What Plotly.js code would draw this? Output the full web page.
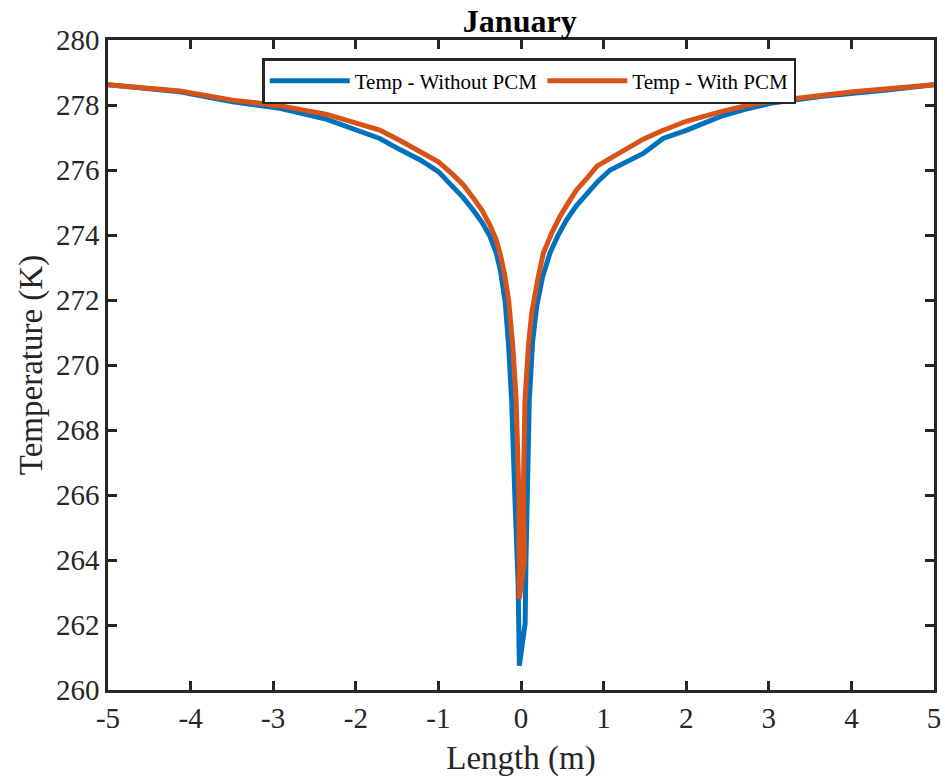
<!DOCTYPE html>
<html>
<head>
<meta charset="utf-8">
<script src="https://cdn.plot.ly/plotly-3.0.1.min.js"></script>
<style>html,body{margin:0;padding:0;background:#fff;}#chart{width:945px;height:779px;}</style>
</head>
<body>
<div id="chart"></div>
<script>
// Temp - Without PCM
var lengthWithout = [-5.0, -4.13, -3.49, -2.92, -2.35, -1.71, -1.46, -1.22, -1.0, -0.82, -0.7, -0.58, -0.47, -0.375, -0.3, -0.25, -0.19, -0.15, -0.113, -0.073, -0.035, -0.02, 0.05, 0.06, 0.077, 0.10, 0.14, 0.19, 0.26, 0.35, 0.45, 0.55, 0.67, 0.80, 0.93, 1.08, 1.2, 1.48, 1.72, 2.0, 2.41, 2.7, 3.02, 3.62, 4.43, 5.0];
var tempWithout   = [278.62, 278.41, 278.10, 277.90, 277.56, 276.97, 276.62, 276.31, 275.95, 275.49, 275.15, 274.77, 274.38, 273.95, 273.45, 272.92, 271.9, 270.6, 268.9, 265.85, 263.3, 260.75, 262.05, 264.0, 265.85, 268.9, 270.7, 271.8, 272.7, 273.44, 274.0, 274.46, 274.9, 275.28, 275.65, 276.0, 276.15, 276.51, 276.97, 277.22, 277.64, 277.86, 278.05, 278.26, 278.46, 278.62];
// Temp - With PCM
var lengthWith = [-5.0, -4.13, -3.49, -2.92, -2.35, -1.71, -1.46, -1.22, -1.0, -0.82, -0.7, -0.58, -0.47, -0.375, -0.3, -0.25, -0.2, -0.15, -0.1, -0.06, -0.025, -0.02, 0.04, 0.03, 0.048, 0.09, 0.13, 0.2, 0.27, 0.37, 0.47, 0.57, 0.67, 0.8, 0.92, 1.08, 1.2, 1.48, 1.7, 1.88, 2.0, 2.41, 2.81, 3.22, 4.02, 5.0];
var tempWith   = [278.62, 278.43, 278.15, 277.98, 277.71, 277.23, 276.90, 276.57, 276.25, 275.85, 275.55, 275.15, 274.75, 274.3, 273.85, 273.4, 272.8, 272.0, 270.6, 269.0, 266.0, 262.8, 263.95, 266.3, 268.9, 270.6, 271.6, 272.6, 273.44, 274.05, 274.56, 274.98, 275.38, 275.75, 276.12, 276.36, 276.55, 276.95, 277.2, 277.38, 277.5, 277.79, 278.03, 278.17, 278.41, 278.62];

var xTicks = [-5, -4, -3, -2, -1, 0, 1, 2, 3, 4, 5];
var yTicks = [260, 262, 264, 266, 268, 270, 272, 274, 276, 278, 280];

var font = "'Liberation Serif', 'Times New Roman', serif";

var traces = [
  {x: lengthWithout, y: tempWithout, mode: 'lines', name: 'Temp - Without PCM',
   line: {color: '#0072BD', width: 5}},
  {x: lengthWith, y: tempWith, mode: 'lines', name: 'Temp - With PCM',
   line: {color: '#D95319', width: 5}}
];

var axisCommon = {
  showgrid: false, zeroline: false, showline: true, mirror: 'ticks',
  linecolor: '#262626', linewidth: 2.5, ticks: 'inside', ticklen: 9, tickwidth: 2.5,
  tickcolor: '#262626', tickfont: {family: font, size: 29, color: '#262626'}
};

var layout = {
  width: 945, height: 779,
  margin: {l: 108, r: 11, t: 40, b: 89},
  paper_bgcolor: '#fff', plot_bgcolor: '#fff',
  font: {family: font, color: '#262626'},
  title: {text: '<b>January</b>', font: {family: font, size: 32, color: '#000'},
          x: 0.55, xanchor: 'center', y: 0.973, yanchor: 'middle'},
  showlegend: true,
  legend: {orientation: 'h', x: 0.51, xanchor: 'center', y: 0.972, yanchor: 'top',
           bordercolor: '#262626', borderwidth: 2.5, bgcolor: '#fff',
           font: {family: font, size: 21, color: '#000'}, itemwidth: 80, tracegroupgap: 0},
  xaxis: Object.assign({}, axisCommon, {
    range: [-5, 5], tickvals: xTicks, ticktext: xTicks.map(String),
    title: {text: 'Length (m)', font: {family: font, size: 33, color: '#262626'}, standoff: 14}
  }),
  yaxis: Object.assign({}, axisCommon, {
    range: [260, 280], tickvals: yTicks, ticktext: yTicks.map(String),
    title: {text: 'Temperature (K)', font: {family: font, size: 33, color: '#262626'}, standoff: 4}
  })
};

Plotly.newPlot('chart', traces, layout, {displayModeBar: false});
</script>
</body>
</html>
